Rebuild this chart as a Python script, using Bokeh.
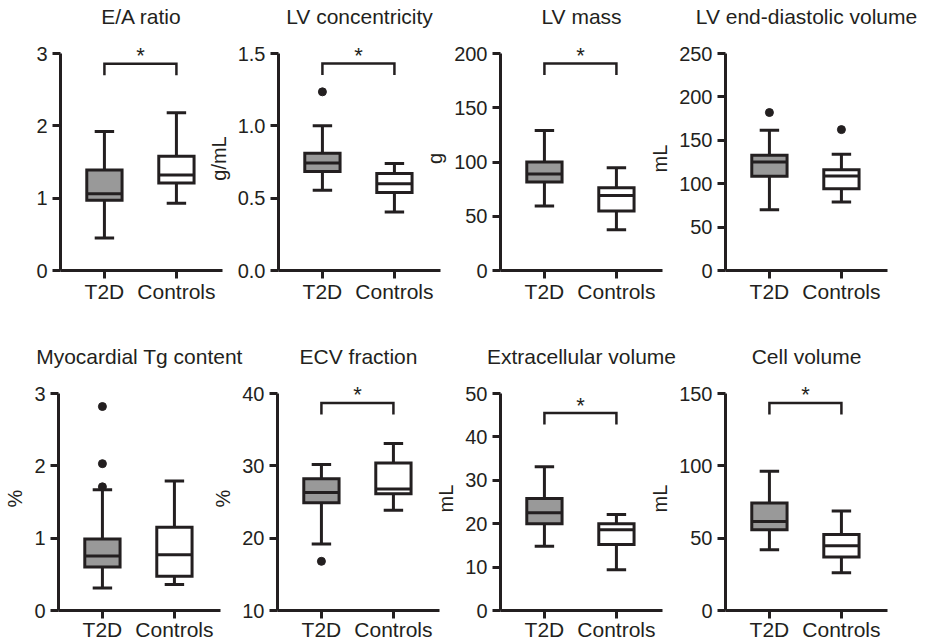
from bokeh.plotting import figure
from bokeh.layouts import row, column
from bokeh.models import FixedTicker, NumeralTickFormatter, Range1d
from bokeh.embed import file_html
from bokeh.resources import INLINE
from bokeh.core.properties import value

# ---------------- data ----------------
groups = ["T2D", "Controls"]
titles = ["E/A ratio", "LV concentricity", "LV mass", "LV end-diastolic volume",
          "Myocardial Tg content", "ECV fraction", "Extracellular volume", "Cell volume"]
y_labels = ["", "g/mL", "g", "mL", "%", "%", "mL", "mL"]
y_ticks = [[0, 1, 2, 3], [0.0, 0.5, 1.0, 1.5], [0, 50, 100, 150, 200],
           [0, 50, 100, 150, 200, 250], [0, 1, 2, 3], [10, 20, 30, 40],
           [0, 10, 20, 30, 40, 50], [0, 50, 100, 150]]
y_formats = ["0", "0.0", "0", "0", "0", "0", "0", "0"]

# box-plot summaries: [T2D, Controls]
whisker_low = [[0.45, 0.93], [0.554, 0.404], [59.4, 37.5], [70, 78.8],
               [0.31, 0.36], [19.2, 23.85], [14.8, 9.4], [42, 26.1]]
q1 = [[0.97, 1.21], [0.685, 0.54], [81.5, 54.8], [108.5, 94.2],
      [0.60, 0.475], [24.9, 26.15], [20.0, 15.2], [55.8, 36.9]]
medians = [[1.06, 1.32], [0.743, 0.60], [89, 69.2], [125, 108.8],
           [0.755, 0.77], [26.3, 26.8], [22.5, 18.6], [61.6, 44.8]]
q3 = [[1.39, 1.58], [0.81, 0.67], [100, 76.3], [132.7, 116],
      [0.99, 1.15], [28.2, 30.4], [25.8, 20.0], [74.3, 52.6]]
whisker_high = [[1.92, 2.18], [1.0, 0.74], [129, 94.8], [161.5, 133.8],
                [1.67, 1.79], [30.2, 33.1], [33.1, 22.1], [96.2, 68.8]]
outliers_t2d = [[], [1.235], [], [182], [2.82, 2.03, 1.71], [16.8], [], []]
outliers_controls = [[], [], [], [162.3], [], [], [], []]
significance_y = [2.86, 1.431, 190.8, None, None, 38.7, 45.5, 143.5]

# ---------------- style / layout ----------------
FONT = "Liberation Sans"
INK = "#231f20"
FILLS = ["#999999", "#ffffff"]
FRAME_W, FRAME_H = 162, 224
TICK_SPAN_PX = 217.0
BOX_W, CAP_W = 0.49, 0.27
LEG_FRAC = 0.053
TOP_BORDER = 70

left_border = [60, 80, 80, 80, 58, 80, 80, 80]
left_margin = [0, -54, -50, -47, 0, -53, -49, -47]
right_border = [30, 30, 30, 40, 30, 30, 30, 40]


def make_panel(i):
    top_row = i < 4
    xs = [1, 2]
    yt = y_ticks[i]
    y0, y1 = yt[0], yt[-1]
    span = (y1 - y0) * FRAME_H / TICK_SPAN_PX
    p = figure(frame_width=FRAME_W, frame_height=FRAME_H,
               x_range=Range1d(0.39, 2.64), y_range=Range1d(y0, y0 + span),
               output_backend="svg", toolbar_location=None,
               min_border_left=left_border[i],
               min_border_right=right_border[i],
               min_border_top=TOP_BORDER,
               min_border_bottom=40 if top_row else 31,
               margin=(46 - TOP_BORDER if top_row else 76 - TOP_BORDER, 0, 0, left_margin[i]),
               title=titles[i])
    p.border_fill_color = None
    p.background_fill_color = None
    p.outline_line_color = None
    p.grid.visible = False

    p.title.text_font = FONT
    p.title.text_font_size = "21px"
    p.title.text_font_style = "normal"
    p.title.text_color = INK
    p.title.align = "center"
    p.title.standoff = 38

    for ax in (p.xaxis[0], p.yaxis[0]):
        ax.axis_line_width = 3
        ax.axis_line_color = INK
        ax.major_tick_line_width = 3
        ax.major_tick_line_color = INK
        ax.major_tick_out = 8
        ax.major_tick_in = 0
        ax.minor_tick_line_color = None
        ax.major_label_text_font = FONT
        ax.major_label_text_color = INK

    xa = p.xaxis[0]
    xa.ticker = FixedTicker(ticks=xs)
    xa.major_label_overrides = {1: groups[0], 2: groups[1]}
    xa.major_label_text_font_size = "21px"
    xa.major_label_standoff = 1 if top_row else -1

    ya = p.yaxis[0]
    ya.ticker = FixedTicker(ticks=yt)
    ya.formatter = NumeralTickFormatter(format=y_formats[i])
    ya.bounds = (y0, y1)
    ya.major_label_text_font_size = "20px"
    ya.major_label_standoff = 5
    if y_labels[i]:
        ya.axis_label = y_labels[i]
        ya.axis_label_text_font = FONT
        ya.axis_label_text_font_size = "20px"
        ya.axis_label_text_font_style = "normal"
        ya.axis_label_text_color = INK
        ya.axis_label_standoff = 5

    lo, a, m, b, hi = whisker_low[i], q1[i], medians[i], q3[i], whisker_high[i]
    # whiskers
    p.segment(x0=xs, y0=b, x1=xs, y1=hi, line_color=INK, line_width=3)
    p.segment(x0=xs, y0=a, x1=xs, y1=lo, line_color=INK, line_width=3)
    p.segment(x0=[x - CAP_W / 2 for x in xs], y0=hi, x1=[x + CAP_W / 2 for x in xs], y1=hi,
              line_color=INK, line_width=3)
    p.segment(x0=[x - CAP_W / 2 for x in xs], y0=lo, x1=[x + CAP_W / 2 for x in xs], y1=lo,
              line_color=INK, line_width=3)
    # boxes
    p.vbar(x=xs, bottom=a, top=b, width=BOX_W, fill_color=FILLS,
           line_color=INK, line_width=3, line_join="miter")
    p.segment(x0=[x - BOX_W / 2 for x in xs], y0=m, x1=[x + BOX_W / 2 for x in xs], y1=m,
              line_color=INK, line_width=3)
    # outliers
    ox = [xs[0]] * len(outliers_t2d[i]) + [xs[1]] * len(outliers_controls[i])
    oy = outliers_t2d[i] + outliers_controls[i]
    if oy:
        p.scatter(x=ox, y=oy, size=8, color=INK)
    # significance bracket
    sy = significance_y[i]
    if sy is not None:
        leg = LEG_FRAC * (y1 - y0)
        p.multi_line(xs=[[xs[0], xs[0], xs[1], xs[1]]], ys=[[sy - leg, sy, sy, sy - leg]],
                     line_color=INK, line_width=2.5, line_join="miter")
        p.text(x=[(xs[0] + xs[1]) / 2], y=[sy], text=["*"], text_align="center",
               text_baseline="alphabetic", y_offset=-8, text_font=value(FONT),
               text_font_size="22px", text_color=INK)
    return p


panels = [make_panel(i) for i in range(8)]
layout = column(row(*panels[:4]), row(*panels[4:]))

with open("out.html", "w") as f:
    f.write(file_html(layout, INLINE))
